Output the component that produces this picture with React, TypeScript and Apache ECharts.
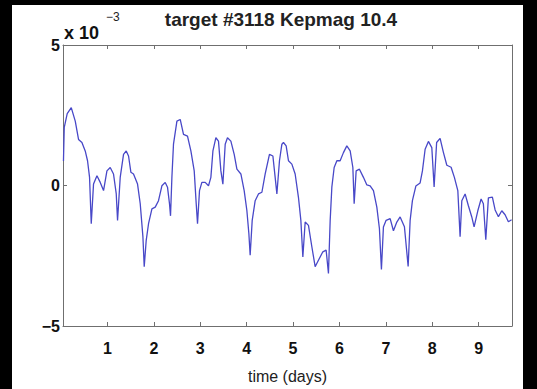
import React, { useEffect, useRef } from "react";
import * as echarts from "echarts";

// Relative flux of target #3118, in units of 1e-3, against time in days.
const timeDays = [
  0.050, 0.067, 0.131, 0.218, 0.304, 0.375, 0.448, 0.519, 0.569, 0.612,
  0.649, 0.698, 0.772, 0.843, 0.914, 0.987, 1.058, 1.129, 1.188, 1.216,
  1.274, 1.345, 1.403, 1.453, 1.504, 1.560, 1.647, 1.705, 1.763, 1.791,
  1.834, 1.884, 1.957, 2.028, 2.099, 2.172, 2.244, 2.293, 2.336, 2.358,
  2.388, 2.422, 2.496, 2.567, 2.638, 2.724, 2.797, 2.869, 2.912, 2.940,
  2.983, 3.034, 3.106, 3.177, 3.228, 3.272, 3.336, 3.392, 3.444, 3.487,
  3.537, 3.586, 3.659, 3.731, 3.789, 3.875, 3.946, 4.004, 4.047, 4.075,
  4.119, 4.183, 4.254, 4.328, 4.399, 4.491, 4.565, 4.614, 4.651, 4.707,
  4.759, 4.793, 4.851, 4.901, 4.974, 5.045, 5.116, 5.168, 5.211, 5.261,
  5.332, 5.405, 5.476, 5.547, 5.642, 5.713, 5.763, 5.800, 5.836, 5.886,
  5.944, 6.015, 6.086, 6.159, 6.231, 6.289, 6.317, 6.360, 6.431, 6.517,
  6.591, 6.662, 6.733, 6.806, 6.862, 6.905, 6.948, 7.006, 7.093, 7.164,
  7.237, 7.308, 7.401, 7.481, 7.524, 7.573, 7.647, 7.739, 7.789, 7.847,
  7.918, 7.991, 8.041, 8.095, 8.170, 8.241, 8.315, 8.407, 8.478, 8.552,
  8.601, 8.638, 8.709, 8.780, 8.853, 8.903, 8.983, 9.054, 9.103, 9.155,
  9.211, 9.297, 9.356, 9.427, 9.500, 9.571, 9.642, 9.711,
];

const fluxMilli = [
  0.87, 2.07, 2.56, 2.77, 2.29, 1.64, 1.53, 1.23, 0.88, 0.30,
  -1.36, 0.05, 0.35, 0.11, -0.18, 0.52, 0.64, 0.41, -0.30, -1.24,
  0.30, 1.11, 1.23, 1.05, 0.47, 0.41, 0.05, -0.65, -1.83, -2.89,
  -1.95, -1.36, -0.83, -0.77, -0.54, -0.01, 0.11, -0.06, -0.65, -1.08,
  0.30, 1.47, 2.29, 2.35, 1.82, 1.76, 1.23, 0.52, -0.65, -1.36,
  -0.18, 0.11, 0.11, -0.01, 0.29, 1.23, 1.70, 1.58, 0.52, 0.05,
  1.47, 1.70, 1.58, 1.11, 0.58, 0.41, -0.18, -0.89, -1.71, -2.48,
  -1.24, -0.54, -0.30, -0.24, 0.41, 1.11, 1.05, 0.29, -0.30, 0.88,
  1.47, 1.53, 1.41, 0.88, 0.76, 0.41, -0.42, -1.24, -2.54, -1.30,
  -1.42, -2.18, -2.89, -2.66, -2.36, -2.30, -3.13, -1.24, -0.06, 0.64,
  0.88, 0.88, 1.17, 1.41, 1.23, 0.64, -0.65, 0.52, 0.58, 0.29,
  0.02, -0.01, -0.18, -0.77, -1.54, -2.99, -1.48, -1.24, -1.18, -1.61,
  -1.30, -1.12, -1.47, -2.88, -1.24, -0.54, -0.02, 0.09, 0.52, 1.29,
  1.57, 1.35, -0.05, 1.53, 1.68, 1.18, 0.72, 0.65, 0.29, -0.18,
  -1.82, -0.54, -0.30, -0.72, -1.12, -1.47, -0.90, -0.48, -0.65, -1.93,
  -0.44, -0.41, -0.87, -1.11, -0.90, -1.04, -1.29, -1.22,
];

const xTicks = [1, 2, 3, 4, 5, 6, 7, 8, 9];
const titleText = "target #3118 Kepmag 10.4";
const xLabel = "time (days)";

const X_MIN = 0.04;
const X_MAX = 9.72;

const FONT = "'Liberation Sans', Arial, Helvetica, sans-serif";
const AXIS_COLOR = "#6f6f6f";

export default function App() {
  const ref = useRef<HTMLDivElement>(null);

  useEffect(() => {
    if (!ref.current) return;
    const chart = echarts.init(ref.current, undefined, { renderer: "svg" });

    const points = timeDays.map((t, i) => [t, fluxMilli[i]]);
    const fmtY = (v: number) => (v < 0 ? "\u2212" + Math.abs(v) : String(v));

    const tickStyle = {
      show: true,
      inside: true,
      length: 4,
      lineStyle: { color: AXIS_COLOR, width: 1 },
    };
    const lineStyle = { show: true, onZero: false, lineStyle: { color: AXIS_COLOR, width: 1 } };

    chart.setOption({
      animation: false,
      backgroundColor: "transparent",
      grid: { left: 63, right: 25, top: 45, bottom: 61, containLabel: false, show: false },
      xAxis: [
        {
          type: "value",
          position: "bottom",
          min: X_MIN,
          max: X_MAX,
          axisLine: lineStyle,
          axisTick: { ...tickStyle, customValues: xTicks },
          axisLabel: {
            customValues: xTicks,
            color: "#111",
            fontFamily: FONT,
            fontSize: 16,
            fontWeight: "bold",
            margin: 14,
          },
          splitLine: { show: false },
          name: xLabel,
          nameLocation: "middle",
          nameGap: 42,
          nameTextStyle: { color: "#222", fontFamily: FONT, fontSize: 16 },
        },
        {
          type: "value",
          position: "top",
          min: X_MIN,
          max: X_MAX,
          axisLine: lineStyle,
          axisTick: { ...tickStyle, customValues: xTicks },
          axisLabel: { show: false },
          splitLine: { show: false },
        },
      ],
      yAxis: [
        {
          type: "value",
          position: "left",
          min: -5,
          max: 5,
          interval: 5,
          axisLine: lineStyle,
          axisTick: tickStyle,
          axisLabel: {
            formatter: fmtY,
            color: "#111",
            fontFamily: FONT,
            fontSize: 16,
            fontWeight: "bold",
            margin: 3,
          },
          splitLine: { show: false },
        },
        {
          type: "value",
          position: "right",
          min: -5,
          max: 5,
          interval: 5,
          axisLine: lineStyle,
          axisTick: tickStyle,
          axisLabel: { show: false },
          splitLine: { show: false },
        },
      ],
      graphic: [
        {
          type: "text",
          x: 281,
          y: 19,
          style: {
            text: titleText,
            fill: "#222",
            font: `bold 19px ${FONT}`,
            textAlign: "center",
            textVerticalAlign: "middle",
          },
        },
        {
          type: "text",
          x: 64,
          y: 33,
          style: {
            text: "x 10",
            fill: "#111",
            font: `bold 18px ${FONT}`,
            textAlign: "left",
            textVerticalAlign: "middle",
          },
        },
        {
          type: "text",
          x: 106,
          y: 17,
          style: {
            text: "\u22123",
            fill: "#222",
            font: `12px ${FONT}`,
            textAlign: "left",
            textVerticalAlign: "middle",
          },
        },
      ],
      series: [
        {
          type: "line",
          xAxisIndex: 0,
          yAxisIndex: 0,
          data: points,
          showSymbol: false,
          symbol: "none",
          smooth: false,
          lineStyle: { color: "#4848c8", width: 1.3 },
        },
      ],
    });

    return () => chart.dispose();
  }, []);

  return (
    <div
      style={{
        position: "fixed",
        left: 0,
        top: 0,
        width: 537,
        height: 389,
        background: "#000",
        overflow: "hidden",
      }}
    >
      <div
        style={{
          position: "absolute",
          left: 12,
          top: 5,
          width: 511,
          height: 384,
          background: "#fff",
        }}
      />
      <div ref={ref} style={{ position: "absolute", left: 0, top: 0, width: 537, height: 389 }} />
    </div>
  );
}
